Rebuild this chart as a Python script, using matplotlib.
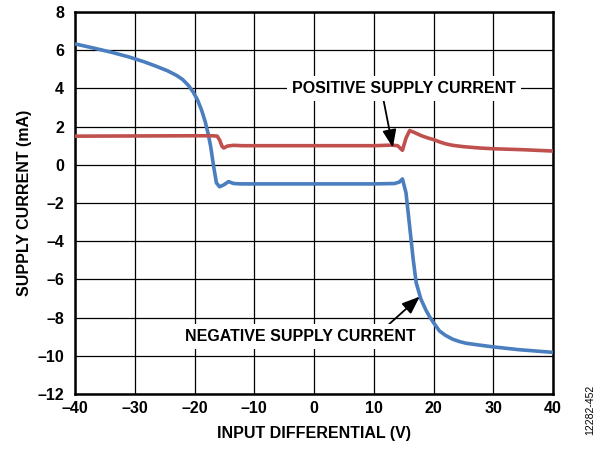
import matplotlib
matplotlib.use("Agg")
import matplotlib.pyplot as plt
import numpy as np

plt.rcParams['font.family'] = ['Liberation Sans', 'DejaVu Sans']
plt.rcParams['font.weight'] = 'bold'

# Negative supply current (blue)
neg_x = [-40, -37, -34, -31, -28.5, -26.5, -24.5, -23, -22, -21, -20.2, -19.5, -18.8, -18.2,
         -17.7, -17.3, -16.8, -16.33, -15.8, -15.1, -14.3, -13.45, -12.3, -5, 0, 5, 10, 13.5,
         14.3, 14.8, 15.4, 16.0, 16.6, 17.1, 17.9, 18.8, 19.4, 20, 21, 22, 23.2, 24.3, 25.4,
         27.7, 29.9, 34.3, 40]
neg_y = [6.33, 6.12, 5.9, 5.65, 5.4, 5.17, 4.92, 4.68, 4.47, 4.15, 3.8, 3.4, 2.85, 2.25,
         1.6, 0.97, -0.08, -0.95, -1.15, -1.05, -0.88, -0.98, -1.0, -1.0, -1.0, -1.0, -1.0, -0.98,
         -0.9, -0.74, -1.47, -3.2, -4.95, -6.17, -7.04, -7.65, -7.98, -8.26, -8.7, -8.93, -9.13,
         -9.25, -9.34, -9.44, -9.53, -9.68, -9.82]

# Positive supply current (red)
pos_x = [-40, -30, -20, -17, -16.2, -15.8, -15.4, -15.1, -14.5, -13.5, -12, -5, 0, 5, 10, 13,
         14.0, 14.8, 15.4, 16.0, 16.6, 17.3, 18, 19, 20, 21, 22, 23.2, 25, 27.7, 30, 35, 40]
pos_y = [1.50, 1.51, 1.52, 1.52, 1.5, 1.3, 0.97, 0.88, 0.98, 1.02, 1.0, 1.0, 1.0, 1.0, 1.0, 1.03,
         1.0, 0.76, 1.4, 1.79, 1.72, 1.62, 1.52, 1.41, 1.32, 1.2, 1.1, 1.02, 0.95, 0.88, 0.84, 0.79, 0.72]

x_ticks = [-40, -30, -20, -10, 0, 10, 20, 30, 40]
y_ticks = [-12, -10, -8, -6, -4, -2, 0, 2, 4, 6, 8]

FS = 11.5

fig = plt.figure(figsize=(6.03, 4.49), dpi=100)
ax = fig.add_axes([75/603, 1 - 394/449, (553-75)/603, (394-12)/449])

ax.plot(neg_x, neg_y, color='#4a7ebf', lw=2.6, solid_capstyle='butt', solid_joinstyle='round', zorder=3)
ax.plot(pos_x, pos_y, color='#c0504d', lw=2.6, solid_capstyle='butt', solid_joinstyle='round', zorder=3)

ax.set_xlim(-40, 40)
ax.set_ylim(-12, 8)
ax.set_xticks(x_ticks)
ax.set_yticks(y_ticks)
ax.set_xticklabels([str(v).replace('-', '\u2013') for v in x_ticks], fontsize=FS, fontweight='bold')
ax.set_yticklabels([str(v).replace('-', '\u2013') for v in y_ticks], fontsize=FS, fontweight='bold')
ax.tick_params(axis='x', length=0, pad=5)
ax.tick_params(axis='y', length=0, pad=8)
ax.grid(True, color='black', lw=0.9)
ax.set_axisbelow(True)
for s in ax.spines.values():
    s.set_linewidth(1.8)

ax.set_xlabel('INPUT DIFFERENTIAL (V)', fontsize=FS, fontweight='bold', labelpad=7)
ax.set_ylabel('SUPPLY CURRENT (mA)', fontsize=FS, fontweight='bold', labelpad=4)

bbox = dict(boxstyle='square,pad=0.3', fc='white', ec='none')
ax.text(15.1, 4.0, 'POSITIVE SUPPLY CURRENT', ha='center', va='center', fontsize=FS,
        fontweight='bold', bbox=bbox, zorder=6)
ax.text(-2.3, -9.0, 'NEGATIVE SUPPLY CURRENT', ha='center', va='center', fontsize=FS,
        fontweight='bold', bbox=bbox, zorder=6)

ax.annotate('', xy=(13.2, 0.9), xytext=(11.5, 3.6),
            arrowprops=dict(arrowstyle='-|>,head_length=0.9,head_width=0.35', color='black',
                            lw=1.3, mutation_scale=12, shrinkA=0, shrinkB=0), zorder=5)
ax.annotate('', xy=(17.7, -6.9), xytext=(11.3, -8.7),
            arrowprops=dict(arrowstyle='-|>,head_length=0.9,head_width=0.35', color='black',
                            lw=1.3, mutation_scale=12, shrinkA=0, shrinkB=0), zorder=5)

fig.text(590/603, 1 - 410/449, '12282-452', rotation=90, fontsize=7.5, fontweight='normal',
         ha='center', va='center')

fig.savefig('out.png', dpi=100)
